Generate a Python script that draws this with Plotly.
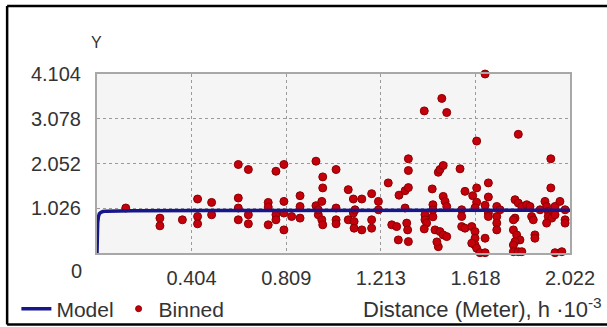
import plotly.graph_objects as go

# ---- data ----
x_tick_vals = [0.404, 0.809, 1.213, 1.618, 2.022]
x_tick_text = ["0.404", "0.809", "1.213", "1.618", "2.022"]
y_tick_vals = [1.026, 2.052, 3.078, 4.104]
y_tick_text = ["1.026", "2.052", "3.078", "4.104"]

model_x = [0, 0.001, 0.003, 0.006, 0.01, 0.016, 0.025, 0.04, 0.07, 0.15, 0.5, 1.0, 1.5, 2.022]
model_y = [0, 0.45, 0.70, 0.83, 0.90, 0.93, 0.95, 0.96, 0.965, 0.97, 0.972, 0.975, 0.978, 0.98]

binned_x = [0.123, 0.269, 0.269, 0.365, 0.430, 0.430, 0.430, 0.490, 0.490,
            0.604, 0.647, 0.604, 0.604, 0.604, 0.647, 0.647, 0.732, 0.732, 0.732,
            0.765, 0.765, 0.765, 0.799, 0.799, 0.799, 0.799, 0.832, 0.868, 0.868, 0.868,
            0.936, 0.936, 0.946, 0.961, 0.965, 0.965, 0.961, 0.965,
            1.022, 1.022, 1.022, 1.022, 1.074, 1.074, 1.096, 1.096, 1.099, 1.099,
            1.132, 1.132, 1.174, 1.174, 1.174, 1.203, 1.203, 1.245, 1.260, 1.281, 1.291, 1.288,
            1.317, 1.331, 1.331, 1.331, 1.317, 1.324, 1.328, 1.331,
            1.399, 1.402, 1.402, 1.409, 1.433, 1.436, 1.436, 1.445, 1.466, 1.480, 1.495, 1.459, 1.453,
            1.459, 1.466, 1.480, 1.474, 1.495, 1.480, 1.488, 1.495,
            1.559, 1.559, 1.559, 1.552, 1.573, 1.573, 1.602, 1.616, 1.616, 1.616, 1.602, 1.623, 1.637, 1.659, 1.659,
            1.623, 1.659, 1.623, 1.673, 1.606, 1.623, 1.673, 1.659, 1.709, 1.673, 1.673, 1.709, 1.709, 1.709,
            1.801, 1.787, 1.801, 1.816, 1.837, 1.851, 1.787, 1.780, 1.780, 1.794, 1.808, 1.787, 1.780, 1.780, 1.801, 1.816,
            1.858, 1.865, 1.872, 1.872,
            1.940, 1.940, 1.915, 1.922, 1.929, 1.929, 1.944, 1.922, 1.958, 1.958, 1.979, 2.001, 2.001, 1.958, 1.987,
            1.399, 1.103, 1.616, 1.723, 1.894, 2.001, 1.436, 0.946]
binned_y = [1.031, 0.800, 0.623, 0.761, 1.238, 0.837, 0.669, 1.160, 0.876,
            2.029, 1.914, 1.261, 1.031, 0.761, 0.876, 0.669, 1.160, 1.054, 0.646,
            1.874, 0.876, 0.761, 2.029, 1.183, 0.915, 0.530, 0.837, 1.314, 1.067, 0.800,
            2.105, 1.084, 0.876, 1.183, 1.745, 1.492, 0.761, 0.646,
            1.914, 1.031, 0.761, 0.669, 1.453, 0.761, 1.238, 0.915, 0.722, 0.569,
            1.238, 0.530, 1.360, 0.761, 0.569, 1.183, 0.991, 1.607, 0.646, 0.606, 1.326, 0.300,
            1.429, 1.499, 2.160, 1.891, 1.031, 0.685, 0.530, 0.261,
            3.258, 0.876, 0.761, 0.685, 1.469, 1.107, 0.830, 0.530, 0.491, 0.415, 0.376, 0.145, 0.254,
            1.851, 1.914, 2.006, 3.544, 3.221, 1.298, 1.183, 1.067,
            0.991, 0.837, 0.606, 1.930, 1.413, 0.569, 0.606, 0.491, 0.339, 0.184, 0.224, 0.108, 0.007, 0.007, 0.339,
            2.566, 4.104, 1.492, 1.607, 1.314, 1.164, 1.284, 1.095, 1.067, 0.915, 0.837, 0.837, 0.685, 0.530,
            2.721, 1.222, 1.146, 1.067, 1.107, 1.067, 0.800, 0.761, 0.530, 0.415, 0.300, 0.261, 0.184, 0.030, 0.030, 0.030,
            0.837, 0.761, 0.415, 0.339,
            2.160, 1.492, 1.183, 1.067, 0.952, 0.837, 0.800, 0.685, 1.067, 0.876, 1.183, 0.761, 0.685, 0.007, 0.030,
            0.553, 0.991, 1.038, 0.991, 0.991, 0.991, 0.991, 0.991]
n = min(len(binned_x), len(binned_y))
binned_x, binned_y = binned_x[:n], binned_y[:n]

FONT = "Liberation Sans, Arial, sans-serif"
TXT = "#333333"
TICK_SIZE = 20
TEXT_SIZE = 21

fig = go.Figure()
fig.add_trace(go.Scatter(
    x=binned_x, y=binned_y, mode="markers", name="Binned",
    marker=dict(size=8, color="#c4000c", line=dict(color="#8a0000", width=1)),
    cliponaxis=False, showlegend=False,
))
fig.add_trace(go.Scatter(
    x=model_x, y=model_y, mode="lines", name="Model",
    line=dict(color="#17178a", width=3.5), cliponaxis=False,
))
# legend-only entry so the legend reads Model, Binned
fig.add_trace(go.Scatter(
    x=[None], y=[None], mode="markers", name="Binned",
    marker=dict(size=6, color="#c4000c", line=dict(color="#8a0000", width=1)),
))

fig.update_layout(
    width=607, height=327,
    margin=dict(l=97, r=37, t=74, b=74, autoexpand=False),
    paper_bgcolor="white", plot_bgcolor="#f5f5f5",
    font=dict(family=FONT, size=TICK_SIZE, color=TXT),
    showlegend=True,
    legend=dict(orientation="h", xref="container", yref="container",
                x=0.027, xanchor="left", y=0.055, yanchor="middle",
                bgcolor="rgba(0,0,0,0)", font=dict(size=TEXT_SIZE, color=TXT),
                itemwidth=30, tracegroupgap=0),
    xaxis=dict(range=[0, 2.022], tickvals=x_tick_vals, ticktext=x_tick_text,
               showgrid=True, gridcolor="#9a9a9a", griddash="dot", gridwidth=1,
               showline=True, linecolor="#a8a8a8", linewidth=2, mirror=True,
               zeroline=False, ticks="", ticklabelstandoff=6, automargin=False,
               tickfont=dict(size=TICK_SIZE, color=TXT)),
    yaxis=dict(range=[0, 4.104], tickvals=y_tick_vals, ticktext=y_tick_text,
               showgrid=True, gridcolor="#9a9a9a", griddash="dot", gridwidth=1,
               showline=True, linecolor="#a8a8a8", linewidth=2, mirror=True,
               zeroline=False, ticks="", ticklabelstandoff=10, automargin=False,
               tickfont=dict(size=TICK_SIZE, color=TXT)),
    annotations=[
        dict(text="Y", xref="paper", yref="paper", x=-0.002, y=1.175, showarrow=False,
             xanchor="center", yanchor="middle", font=dict(size=16, color=TXT)),
        dict(text="0", xref="paper", yref="paper", x=-0.044, y=-0.10, showarrow=False,
             xanchor="center", yanchor="middle", font=dict(size=TICK_SIZE, color=TXT)),
        dict(text="Distance (Meter), h \u00b710<sup>-3</sup>", xref="paper", yref="paper",
             x=1.072, y=-0.31, showarrow=False, xanchor="right", yanchor="middle",
             font=dict(size=22, color=TXT)),
    ],
    shapes=[
        dict(type="line", xref="paper", yref="paper", x0=-0.19, x1=-0.19, y0=1.38, y1=-0.40,
             line=dict(color="black", width=2.5)),
        dict(type="line", xref="paper", yref="paper", x0=-0.19, x1=1.2, y0=1.38, y1=1.38,
             line=dict(color="black", width=2.5)),
        dict(type="line", xref="paper", yref="paper", x0=-0.19, x1=1.2, y0=-0.40, y1=-0.40,
             line=dict(color="black", width=2.5)),
    ],
)

fig.write_html("out.html", config={"displayModeBar": False},
               post_script="document.body.style.margin='0';document.body.style.overflow='hidden';")
